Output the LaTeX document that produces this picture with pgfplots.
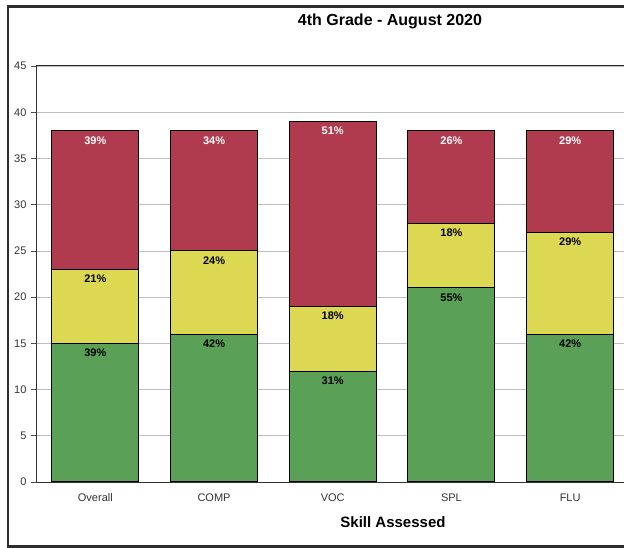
\documentclass[border=0pt]{standalone}
\usepackage{pgfplots}
\pgfplotsset{compat=1.18}
\usepackage{fontspec}
\setmainfont{Liberation Sans}
\definecolor{barGreen}{RGB}{90,160,86}
\definecolor{barYellow}{RGB}{220,216,82}
\definecolor{barRed}{RGB}{176,58,78}
\definecolor{frameGray}{RGB}{45,45,45}
\begin{document}
\begin{tikzpicture}[x=1pt,y=1pt]
    \clip (0,0) rectangle (624,548);
    \draw[white] (0,0) rectangle (624,548);
    \begin{axis}[
        at={(36pt,66pt)}, anchor=south west,
        scale only axis,
        width=593.5pt, height=416pt,
        xmin=-0.5, xmax=4.5,
        ymin=0, ymax=45,
        ybar, bar shift=0pt,
        bar width=87pt,
        axis x line*=bottom, axis y line*=left,
        axis line style={draw=black!80, line width=0.8pt},
        tick align=outside,
        xtick={0,1,2,3,4},
        xticklabels={Overall, COMP, VOC, SPL, FLU},
        x tick style={draw=none},
        extra x ticks={0.5,1.5,2.5,3.5},
        extra x tick labels={},
        extra x tick style={major tick length=4pt, tick style={draw=black!70, line width=0.6pt}},
        ytick={0,5,...,45},
        major tick length=5pt,
        y tick style={draw=black!70, line width=0.6pt},
        ymajorgrids=true,
        grid style={draw=gray!50, line width=0.6pt},
        /pgf/number format/assume math mode=true,
        ticklabel style={font=\fontsize{11}{13}\selectfont, text=black!80},
        xticklabel style={yshift=-3pt},
        yticklabel style={xshift=-1pt},
        point meta=explicit symbolic,
        nodes near coords,
        nodes near coords style={font=\fontsize{11}{13}\selectfont\bfseries, anchor=north, yshift=-2pt},
        every axis plot/.append style={draw=black, line width=1pt},
    ]
    % top of each segment (cumulative), label = share of the bar
    \addplot[fill=barRed, nodes near coords style={text=white}] coordinates {
        (0,38)[39\%] (1,38)[34\%] (2,39)[51\%] (3,38)[26\%] (4,38)[29\%]};
    \addplot[fill=barYellow, nodes near coords style={text=black}] coordinates {
        (0,23)[21\%] (1,25)[24\%] (2,19)[18\%] (3,28)[18\%] (4,27)[29\%]};
    \addplot[fill=barGreen, nodes near coords style={text=black}] coordinates {
        (0,15)[39\%] (1,16)[42\%] (2,12)[31\%] (3,21)[55\%] (4,16)[42\%]};
    \draw[black!85, line width=1pt] (rel axis cs:0,1) -- (rel axis cs:1,1);
    \end{axis}
    \node[font=\fontsize{16}{19}\selectfont\bfseries] at (390,527) {4th Grade - August 2020};
    \node[font=\fontsize{15}{18}\selectfont\bfseries] at (393,26) {Skill Assessed};
    \draw[frameGray, line width=2.5pt] (8,1.5) rectangle (660,541.5);
\end{tikzpicture}
\end{document}
